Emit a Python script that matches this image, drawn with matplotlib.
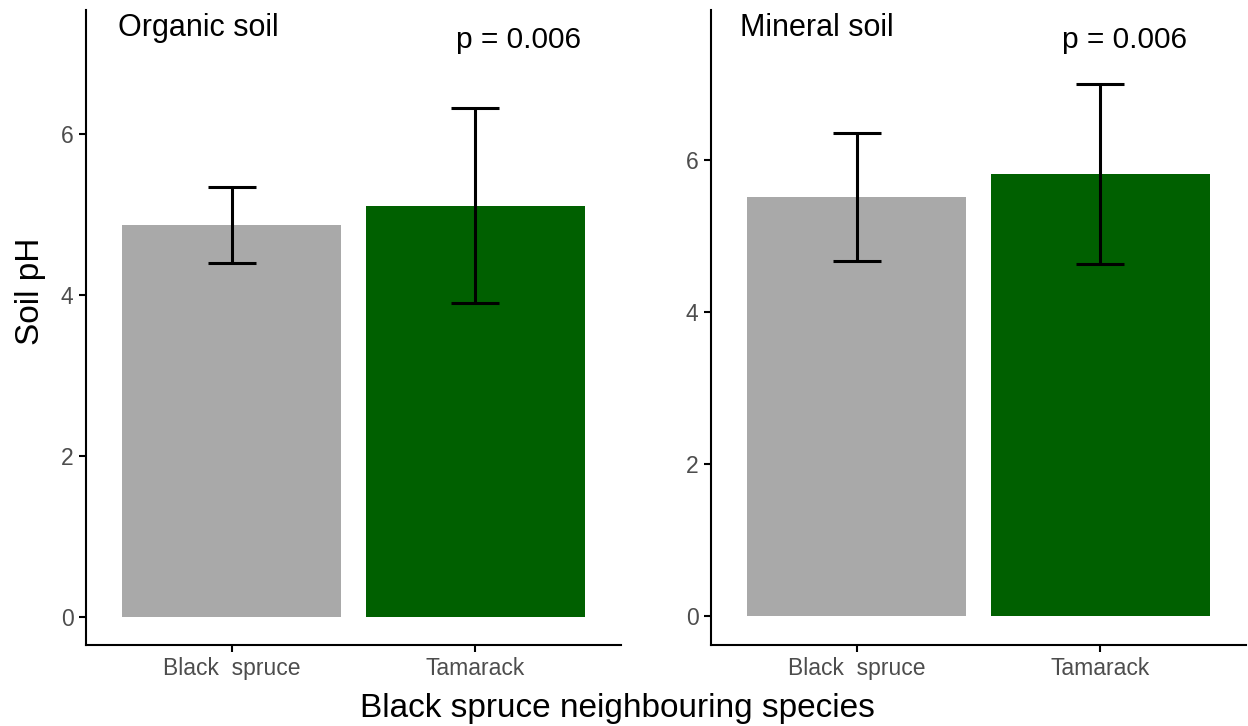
import matplotlib.pyplot as plt

plt.rcParams["font.family"] = ["Liberation Sans", "DejaVu Sans"]

species = ["Black  spruce", "Tamarack"]
bar_colors = ["#A9A9A9", "#006000"]

organic_mean = [4.87, 5.11]
organic_lower = [4.40, 3.90]
organic_upper = [5.34, 6.32]

mineral_mean = [5.51, 5.81]
mineral_lower = [4.67, 4.63]
mineral_upper = [6.35, 6.99]

p_text = "p = 0.006"
panel_titles = ["Organic soil", "Mineral soil"]
y_ticks = [0, 2, 4, 6]

# label positions (data coords): title x/y, p-value x/y
organic_label_pos = (-0.47, 7.32, 1.18, 7.17)
mineral_label_pos = (-0.48, 7.73, 1.10, 7.57)
organic_ylim = (-0.35, 7.54)
mineral_ylim = (-0.38, 7.97)

TICK_GREY = "#4D4D4D"

fig = plt.figure(figsize=(12.48, 7.26), dpi=100)
ax_org = fig.add_axes([0.0689, 0.1116, 0.4287, 0.8747])
ax_min = fig.add_axes([0.5697, 0.1116, 0.4287, 0.8747])


def draw_panel(ax, means, lower, upper, title, label_pos, ylim):
    x = list(range(len(species)))
    ax.bar(x, means, width=0.9, color=bar_colors, zorder=1)
    err_lo = [m - lo for m, lo in zip(means, lower)]
    err_hi = [hi - m for m, hi in zip(means, upper)]
    # cap width about 0.2 of a category
    ax.errorbar(x, means, yerr=[err_lo, err_hi], fmt="none", ecolor="black",
                elinewidth=2.2, capsize=17.5, capthick=2.2, zorder=2)

    tx, ty, px, py = label_pos
    ax.text(tx, ty, title, fontsize=22, ha="left", va="center", color="black")
    ax.text(px, py, p_text, fontsize=21.5, ha="center", va="center", color="black")

    ax.set_ylim(*ylim)
    ax.set_xlim(-0.6, 1.6)
    ax.set_xticks(x)
    ax.set_xticklabels(species)
    ax.set_yticks(y_ticks)

    for side in ["top", "right"]:
        ax.spines[side].set_visible(False)
    for side in ["left", "bottom"]:
        ax.spines[side].set_linewidth(1.5)
    ax.tick_params(axis="both", length=5, width=1.5, colors="black",
                   labelcolor=TICK_GREY, labelsize=16.5, pad=4)


draw_panel(ax_org, organic_mean, organic_lower, organic_upper,
           panel_titles[0], organic_label_pos, organic_ylim)
draw_panel(ax_min, mineral_mean, mineral_lower, mineral_upper,
           panel_titles[1], mineral_label_pos, mineral_ylim)

fig.text(30 / 1248, 1 - 291 / 726, "Soil pH", fontsize=24, rotation=90,
         ha="center", va="center")
fig.text(0.495, 1 - 709 / 726, "Black spruce neighbouring species", fontsize=24,
         ha="center", va="center")

fig.savefig("out.png", dpi=100)
